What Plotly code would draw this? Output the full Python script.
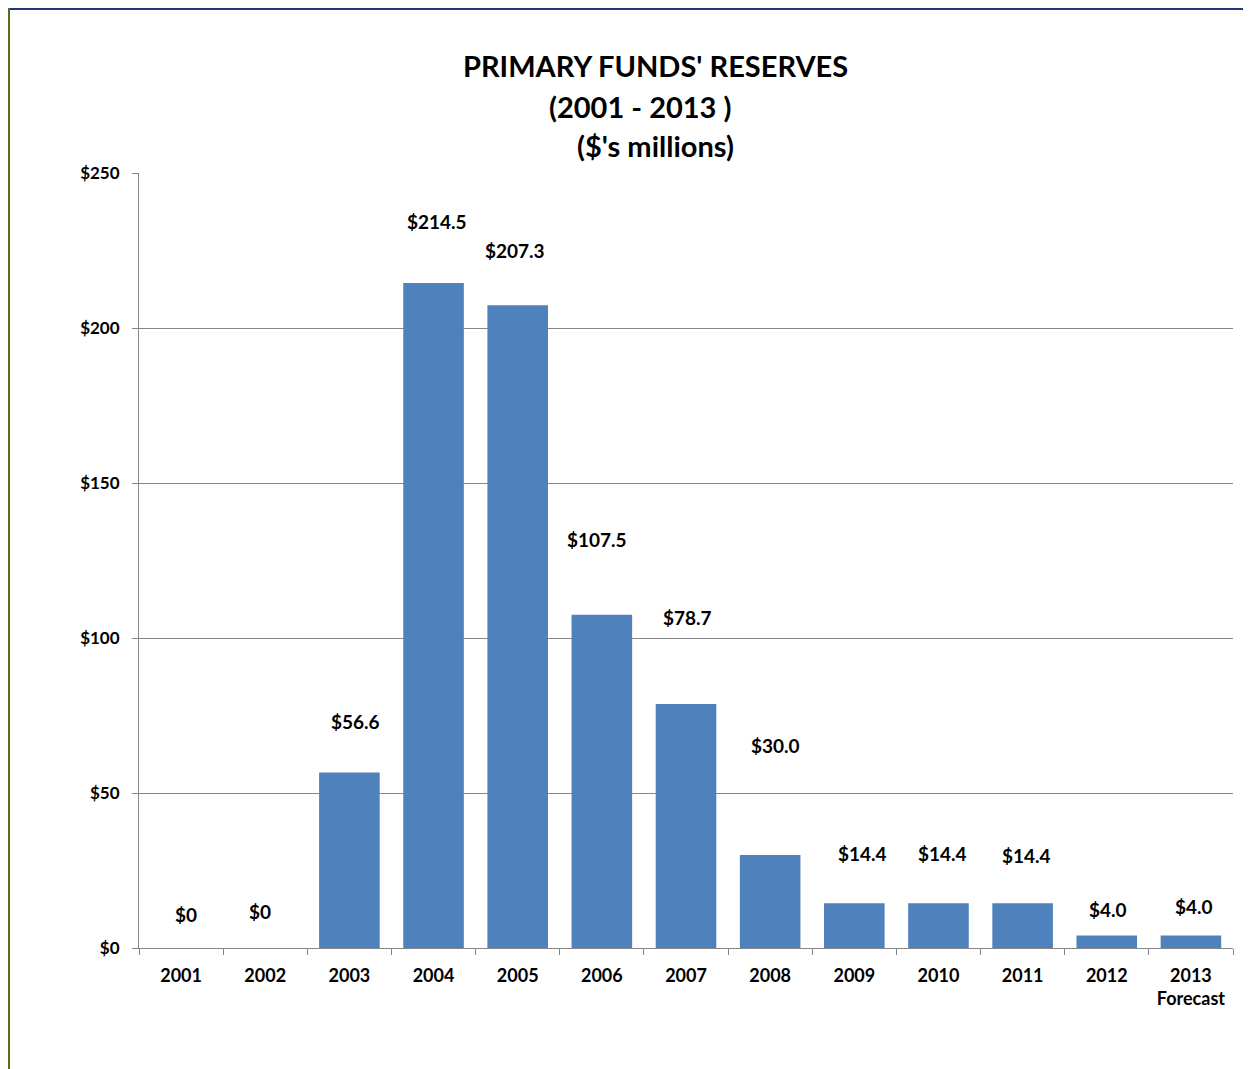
import plotly.graph_objects as go

years = ["2001", "2002", "2003", "2004", "2005", "2006", "2007",
         "2008", "2009", "2010", "2011", "2012", "2013"]
tick_text = ["2001", "2002", "2003", "2004", "2005", "2006", "2007",
             "2008", "2009", "2010", "2011", "2012", "2013<br>Forecast"]
reserves = [0, 0, 56.6, 214.5, 207.3, 107.5, 78.7, 30.0, 14.4, 14.4, 14.4, 4.0, 4.0]
labels = ["$0", "$0", "$56.6", "$214.5", "$207.3", "$107.5", "$78.7",
          "$30.0", "$14.4", "$14.4", "$14.4", "$4.0", "$4.0"]
y_ticks = [0, 50, 100, 150, 200, 250]
y_tick_text = ["$0", "$50", "$100", "$150", "$200", "$250"]
title_lines = ["PRIMARY FUNDS' RESERVES", "(2001 - 2013 )", "($'s millions)"]

# label placement offsets (pixels) to mimic the original chart
label_dx = [5, -5, 6, 3, -3, -5, 1, 5, 8, 4, 4, 1, 3]
label_dy = [34, 37, 51, 62, 55, 75, 87, 110, 50, 50, 48, 26, 29]
# title line centres in page pixels (x, y)
title_pos = [(655, 66), (640, 106), (655, 146)]

FONT = "Lato"
OFF = 8  # page body margin
W, H = 1251 - OFF, 1069 - OFF
L, R, T, B = 139 - OFF, 18, 173 - OFF, 121

fig = go.Figure()
fig.add_trace(go.Bar(
    x=years, y=reserves,
    marker=dict(color="#4F81BD", line=dict(width=0)),
    width=0.72,
    hoverinfo="x+y",
))

for i, (v, t, dx, dy) in enumerate(zip(reserves, labels, label_dx, label_dy)):
    fig.add_annotation(x=i, y=v, xref="x", yref="y", text=t, showarrow=False,
                       xshift=dx, yshift=dy,
                       yanchor="middle", xanchor="center",
                       font=dict(family=FONT, size=19, color="#000000", weight="bold"))

pw = W - L - R
ph = H - T - B

def px(xpix):
    return (xpix - L) / pw

def py(ypix):
    return 1 - (ypix - T) / ph

for line, (tx, ty) in zip(title_lines, title_pos):
    fig.add_annotation(x=px(tx - OFF), y=py(ty - OFF), xref="paper", yref="paper",
                       text=line, showarrow=False, xanchor="center", yanchor="middle",
                       font=dict(family=FONT, size=29, color="#000000", weight="bold"))

# outer frame lines (left olive, top navy)
fig.add_shape(type="line", xref="paper", yref="paper",
              x0=px(0), x1=px(W), y0=py(1), y1=py(1),
              line=dict(color="#1F3A78", width=2), layer="above")
fig.add_shape(type="line", xref="paper", yref="paper",
              x0=px(1), x1=px(1), y0=py(0), y1=py(H),
              line=dict(color="#5C6B1A", width=2), layer="above")

fig.update_layout(
    width=W, height=H,
    margin=dict(l=L, r=R, t=T, b=B, pad=0),
    paper_bgcolor="white", plot_bgcolor="white",
    showlegend=False,
    font=dict(family=FONT, color="#000000"),
    xaxis=dict(
        type="category",
        tickmode="array", tickvals=years, ticktext=tick_text,
        tickson="boundaries", ticks="outside", ticklen=6, tickcolor="#868686",
        showline=True, linecolor="#868686", linewidth=1,
        showgrid=False,
        tickfont=dict(family=FONT, size=18, color="#000000", weight="bold"),
        ticklabelstandoff=11,
        range=[-0.5, 12.5],
    ),
    yaxis=dict(
        range=[0, 250],
        tickmode="array", tickvals=y_ticks, ticktext=y_tick_text,
        ticks="outside", ticklen=6, tickcolor="#868686",
        showline=True, linecolor="#868686", linewidth=1,
        showgrid=True, gridcolor="#868686", gridwidth=1,
        zeroline=False,
        tickfont=dict(family=FONT, size=17, color="#000000", weight="bold"),
        ticklabelstandoff=9,
    ),
)

fig.write_html("out.html")
